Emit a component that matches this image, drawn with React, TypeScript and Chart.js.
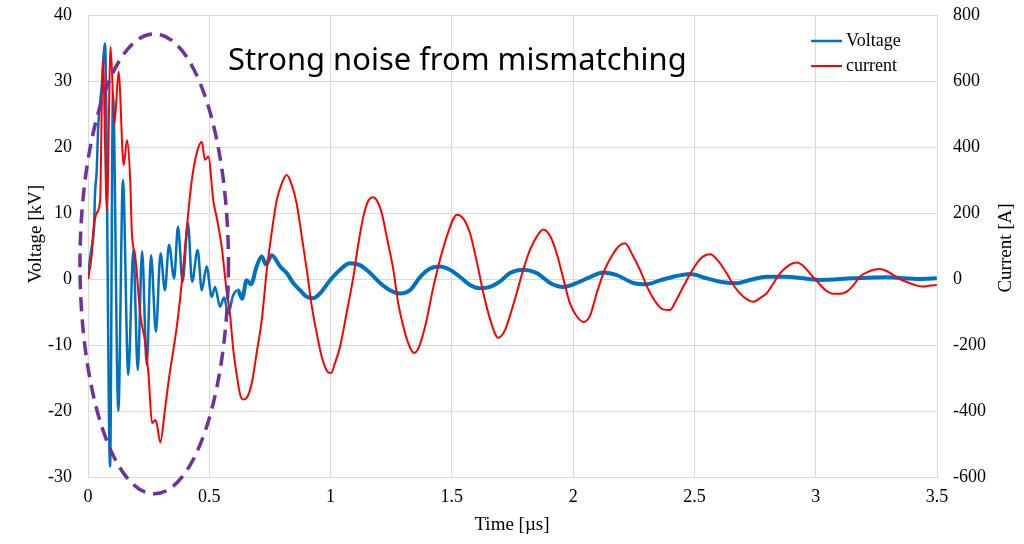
import React, { useEffect, useRef } from "react";
import { Chart, registerables } from "chart.js";

Chart.register(...registerables);

// ---- Data ----
const timeV = [0, 0.008, 0.016, 0.025, 0.029, 0.036, 0.042, 0.056, 0.07, 0.091, 0.103, 0.125, 0.144, 0.166, 0.187, 0.205, 0.223, 0.242, 0.26, 0.28, 0.299, 0.317, 0.334, 0.355, 0.371, 0.39, 0.412, 0.429, 0.452, 0.469, 0.489, 0.51, 0.524, 0.544, 0.561, 0.578, 0.598, 0.618, 0.635, 0.654, 0.672, 0.695, 0.716, 0.734, 0.757, 0.792, 0.819, 0.846, 0.874, 0.902, 0.929, 0.956, 0.998, 1.039, 1.08, 1.121, 1.163, 1.204, 1.245, 1.286, 1.327, 1.369, 1.41, 1.451, 1.492, 1.534, 1.575, 1.616, 1.657, 1.698, 1.74, 1.795, 1.85, 1.905, 1.959, 2.015, 2.07, 2.124, 2.18, 2.248, 2.303, 2.358, 2.427, 2.482, 2.551, 2.619, 2.674, 2.729, 2.798, 2.88, 3.018, 3.154, 3.293, 3.43, 3.499];
const voltage = [0, 3, 5, 8, 13, 16.5, 23, 29, 35.7, -28.4, 28, -20, 15, -14.5, 4.4, -13.8, 4.2, -13, 3.6, -8, 3.9, -1.7, 5.2, 0.1, 7.9, -0.4, 8.5, -0.4, 4.4, -1.7, 1.9, -2.7, -1.2, -4.2, -2.8, -5.2, -2.5, -1.7, -3, -0.2, -0.8, 1.9, 3.4, 2.2, 3.6, 1.9, 0.9, -0.6, -1.7, -2.7, -2.9, -2.2, -0.2, 1.4, 2.4, 2.1, 0.9, -0.6, -1.7, -2.2, -1.7, 0.3, 1.6, 1.9, 1.4, 0.3, -0.9, -1.4, -1.2, -0.4, 0.9, 1.4, 0.9, -0.6, -1.2, -0.6, 0.3, 1.0, 0.6, -0.6, -0.8, -0.2, 0.45, 0.75, 0.1, -0.5, -0.65, -0.15, 0.35, 0.35, -0.15, 0.1, 0.25, 0, 0.1];

const timeI = [0, 0.015, 0.022, 0.036, 0.05, 0.061, 0.078, 0.093, 0.109, 0.126, 0.147, 0.161, 0.174, 0.181, 0.195, 0.216, 0.236, 0.25, 0.264, 0.277, 0.284, 0.298, 0.317, 0.334, 0.352, 0.366, 0.379, 0.393, 0.413, 0.428, 0.448, 0.469, 0.482, 0.496, 0.517, 0.531, 0.551, 0.572, 0.585, 0.599, 0.613, 0.627, 0.639, 0.654, 0.675, 0.695, 0.717, 0.737, 0.757, 0.778, 0.799, 0.819, 0.84, 0.86, 0.881, 0.902, 0.922, 0.943, 0.965, 0.989, 1.002, 1.018, 1.039, 1.067, 1.094, 1.113, 1.135, 1.154, 1.175, 1.191, 1.211, 1.235, 1.259, 1.278, 1.3, 1.323, 1.344, 1.365, 1.396, 1.422, 1.451, 1.484, 1.521, 1.55, 1.575, 1.602, 1.63, 1.657, 1.691, 1.719, 1.74, 1.767, 1.793, 1.822, 1.851, 1.877, 1.905, 1.932, 1.958, 1.987, 2.012, 2.042, 2.07, 2.097, 2.131, 2.166, 2.189, 2.214, 2.243, 2.276, 2.309, 2.344, 2.37, 2.399, 2.424, 2.454, 2.482, 2.509, 2.535, 2.565, 2.598, 2.633, 2.667, 2.702, 2.743, 2.77, 2.798, 2.824, 2.853, 2.886, 2.922, 2.948, 2.976, 3.009, 3.042, 3.073, 3.1, 3.128, 3.154, 3.182, 3.211, 3.24, 3.265, 3.29, 3.32, 3.347, 3.389, 3.418, 3.444, 3.471, 3.499];
const current = [0, 70, 145, 200, 240, 669, 210, 704, 470, 628, 345, 421, 300, 139, 68, -110, -194, -296, -437, -427, -440, -495, -397, -300, -215, -144, -64, 37, 199, 300, 381, 416, 361, 371, 235, 185, 98, -40, -104, -215, -290, -350, -365, -360, -316, -225, -120, 27, 140, 239, 290, 315, 285, 229, 130, 27, -80, -165, -240, -282, -285, -255, -205, -100, 7, 100, 189, 235, 248, 238, 199, 115, 27, -70, -144, -200, -224, -205, -124, -30, 58, 140, 195, 180, 138, 55, -43, -120, -178, -155, -110, -43, 25, 88, 130, 150, 130, 78, 5, -74, -110, -130, -110, -43, 30, 78, 100, 108, 75, 27, -30, -74, -92, -94, -65, -23, 15, 47, 68, 75, 55, 17, -25, -54, -69, -58, -43, -15, 17, 40, 50, 40, 17, -10, -35, -45, -45, -38, -20, 7, 20, 28, 30, 25, 12, 0, -13, -20, -23, -20, -18];

const seriesNames = ["Voltage", "current"];
const xTitle = "Time [\u00b5s]";
const yLeftTitle = "Voltage [kV]";
const yRightTitle = "Current [A]";
const annotationText = "Strong noise from mismatching";
// ellipse around the noisy region, in data units (time µs, voltage kV)
const ellipseCenter = [0.273, 2.3];
const ellipseRadii = [0.306, 34.85];

const BLUE = "#0070C0";
const RED = "#FF0000";
const PURPLE = "#7030A0";
const GRID = "#D9D9D9";
const SERIF = "'Liberation Serif', 'Times New Roman', serif";

export default function App() {
  const ref = useRef<HTMLCanvasElement>(null);

  useEffect(() => {
    const canvas = ref.current;
    if (!canvas) return;

    const overlay = {
      id: "overlay",
      afterDatasetsDraw(chart: any) {
        const { ctx } = chart;
        const xs = chart.scales.x;
        const ys = chart.scales.y;
        const cx = xs.getPixelForValue(ellipseCenter[0]);
        const cy = ys.getPixelForValue(ellipseCenter[1]);
        const rx = Math.abs(xs.getPixelForValue(ellipseCenter[0] + ellipseRadii[0]) - cx);
        const ry = Math.abs(ys.getPixelForValue(ellipseCenter[1] + ellipseRadii[1]) - cy);
        ctx.save();
        ctx.strokeStyle = PURPLE;
        ctx.lineWidth = 3.5;
        ctx.setLineDash([14, 8]);
        ctx.beginPath();
        ctx.ellipse(cx, cy, rx, ry, 0, 0, Math.PI * 2);
        ctx.stroke();
        ctx.restore();
      },
      afterDraw(chart: any) {
        const { ctx } = chart;
        ctx.save();
        ctx.fillStyle = "#000";
        // annotation text
        ctx.textBaseline = "alphabetic";
        ctx.textAlign = "left";
        let size = 32;
        ctx.font = `${size}px 'Noto Sans', sans-serif`;
        const w = ctx.measureText(annotationText).width;
        size = (size * 459) / w;
        ctx.font = `${size}px 'Noto Sans', sans-serif`;
        ctx.fillText(annotationText, 228, 70);

        // legend
        ctx.font = `18px ${SERIF}`;
        ctx.textBaseline = "middle";
        ctx.lineWidth = 2.5;
        ctx.strokeStyle = BLUE;
        ctx.beginPath();
        ctx.moveTo(811, 41);
        ctx.lineTo(842, 41);
        ctx.stroke();
        ctx.fillText(seriesNames[0], 846, 41);
        ctx.lineWidth = 2;
        ctx.strokeStyle = RED;
        ctx.beginPath();
        ctx.moveTo(811, 66);
        ctx.lineTo(842, 66);
        ctx.stroke();
        ctx.fillText(seriesNames[1], 846, 66);

        // axis titles
        ctx.font = `19px ${SERIF}`;
        ctx.textAlign = "center";
        ctx.fillText(xTitle, 512, 525);
        ctx.save();
        ctx.translate(36, 234);
        ctx.rotate(-Math.PI / 2);
        ctx.fillText(yLeftTitle, 0, 0);
        ctx.restore();
        ctx.save();
        ctx.translate(1006, 248);
        ctx.rotate(-Math.PI / 2);
        ctx.fillText(yRightTitle, 0, 0);
        ctx.restore();
        ctx.restore();
      },
    };

    const tickFont = { family: SERIF, size: 18 };

    const chart = new Chart(canvas, {
      type: "line",
      data: {
        datasets: [
          {
            label: seriesNames[0],
            data: timeV.map((t, i) => ({ x: t, y: voltage[i] })),
            borderColor: BLUE,
            backgroundColor: BLUE,
            borderWidth: 2.5,
            pointRadius: 0,
            cubicInterpolationMode: "monotone",
            yAxisID: "y",
            order: 1,
            segment: {
              borderWidth: (c: any) => (c.p0.parsed.x > 0.6 ? 4 : 2.5),
            },
          },
          {
            label: seriesNames[1],
            data: timeI.map((t, i) => ({ x: t, y: current[i] })),
            borderColor: RED,
            backgroundColor: RED,
            borderWidth: 2,
            pointRadius: 0,
            cubicInterpolationMode: "monotone",
            yAxisID: "y1",
            order: 0,
          },
        ],
      },
      options: {
        responsive: false,
        animation: false,
        devicePixelRatio: 1,
        layout: { padding: { top: 15, left: 0, right: 0, bottom: 0 } },
        plugins: {
          legend: { display: false },
          tooltip: { enabled: false },
        },
        scales: {
          x: {
            type: "linear",
            min: 0,
            max: 3.5,
            ticks: {
              stepSize: 0.5,
              callback: (v: any) => String(v),
              font: tickFont,
              color: "#000",
              padding: 9,
              maxRotation: 0,
              autoSkip: false,
            },
            grid: { color: GRID, drawTicks: false },
            border: { color: GRID },
            afterFit: (s: any) => {
              s.height = 67;
              s.paddingLeft = 0;
              s.paddingRight = 0;
            },
          },
          y: {
            type: "linear",
            position: "left",
            min: -30,
            max: 40,
            ticks: {
              stepSize: 10,
              callback: (v: any) => String(v),
              font: tickFont,
              color: "#000",
              padding: 16,
            },
            grid: { color: GRID, drawTicks: false },
            border: { color: GRID },
            afterFit: (s: any) => {
              s.width = 88;
              s.paddingTop = 0;
              s.paddingBottom = 0;
            },
          },
          y1: {
            type: "linear",
            position: "right",
            min: -600,
            max: 800,
            ticks: {
              stepSize: 200,
              callback: (v: any) => String(v),
              font: tickFont,
              color: "#000",
              padding: 16,
            },
            grid: { drawOnChartArea: false, drawTicks: false, color: GRID },
            border: { color: GRID },
            afterFit: (s: any) => {
              s.width = 87;
              s.paddingTop = 0;
              s.paddingBottom = 0;
            },
          },
        },
      },
      plugins: [overlay],
    });

    return () => chart.destroy();
  }, []);

  return (
    <div style={{ position: "fixed", left: 0, top: 0, width: 1024, height: 544, background: "#fff" }}>
      <canvas ref={ref} width={1024} height={544} style={{ display: "block", width: 1024, height: 544 }} />
    </div>
  );
}
